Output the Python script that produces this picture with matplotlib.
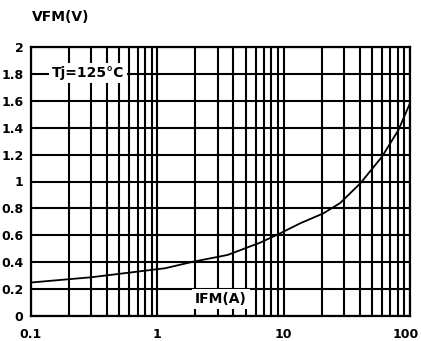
import matplotlib
matplotlib.use("Agg")
import matplotlib.pyplot as plt
import matplotlib.transforms as mtransforms

# Data
ifm = [0.1, 0.3, 1.15, 1.93, 3.6, 6.5, 9.4, 13.5, 20.6, 28, 40.5, 60, 81, 100]
vfm = [0.249, 0.288, 0.355, 0.404, 0.454, 0.545, 0.615, 0.689, 0.763, 0.84, 0.987, 1.184, 1.383, 1.582]

xticks = [0.1, 1, 10, 100]
xticklabels = ["0.1", "1", "10", "100"]
yticks = [0, 0.2, 0.4, 0.6, 0.8, 1, 1.2, 1.4, 1.6, 1.8, 2]
yticklabels = ["0", "0.2", "0.4", "0.6", "0.8", "1", "1.2", "1.4", "1.6", "1.8", "2"]

plt.rcParams['font.family'] = ['DejaVu Sans']

fig = plt.figure(figsize=(4.21, 3.41), dpi=100)
ax = fig.add_axes([31/421, 25/341, 379/421, 269/341])

ax.set_xscale('log')
ax.set_xlim(0.1, 100)
ax.set_ylim(0, 2)

minor = []
for d in [0.1, 1, 10]:
    for k in range(2, 10):
        minor.append(d * k)
for v in minor + xticks:
    ax.axvline(v, color='black', lw=1.5, zorder=1)
for v in yticks:
    ax.axhline(v, color='black', lw=1.5, zorder=1)

ax.plot(ifm, vfm, color='black', lw=1.3, zorder=3)

ax.set_xticks(xticks)
ax.set_xticklabels(xticklabels, fontsize=9, fontweight='bold')
ax.set_xticks([], minor=True)
ax.set_yticks(yticks)
ax.set_yticklabels(yticklabels, fontsize=9, fontweight='bold')
ax.tick_params(axis='x', length=0, pad=8.5)
ax.tick_params(axis='y', length=0, pad=5.5)
for s in ax.spines.values():
    s.set_linewidth(1.6)

# keep the last x label inside the canvas
last = ax.get_xticklabels()[-1]
last.set_transform(last.get_transform() + mtransforms.ScaledTranslation(-4/100, 0, fig.dpi_scale_trans))

ax.text(0.284, 1.807, "Tj=125°C", fontsize=10, fontweight='bold', ha='center', va='center',
        bbox=dict(facecolor='white', edgecolor='none', pad=2), zorder=4)
ax.text(3.2, 0.125, "IFM(A)", fontsize=10, fontweight='bold', ha='center', va='center',
        bbox=dict(facecolor='white', edgecolor='none', pad=2), zorder=4)
fig.text(32/421, 1 - 17/341, "VFM(V)", fontsize=10, fontweight='bold', ha='left', va='center')

fig.savefig("out.png", dpi=100)
